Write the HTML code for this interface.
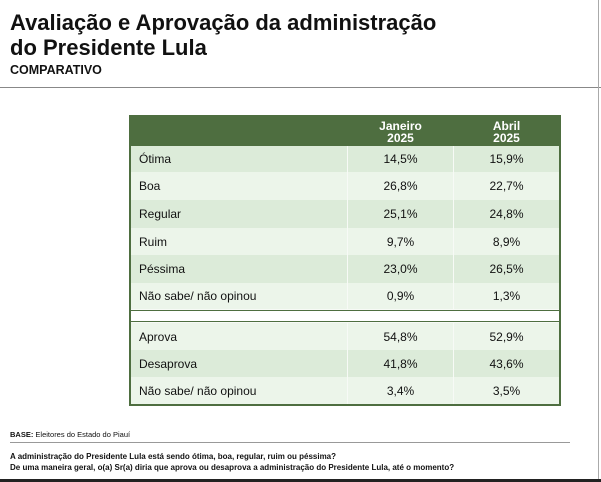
<!DOCTYPE html>
<html><head><meta charset="utf-8"><style>
body{margin:0;width:601px;height:482px;background:#fff;font-family:"Liberation Sans",Arial,sans-serif;position:relative;overflow:hidden;color:#111}
.a{position:absolute}
.t{font-weight:bold;font-size:22px;line-height:25px;left:10px}
.cell{position:absolute;font-size:12px;display:flex;align-items:center;box-sizing:border-box}
</style></head><body>
<div class="a t" style="top:10px">Avaliação e Aprovação da administração</div>
<div class="a t" style="top:35px">do Presidente Lula</div>
<div class="a" style="left:10px;top:63px;font-size:12.5px;font-weight:bold">COMPARATIVO</div>
<div class="a" style="left:0;top:87px;width:601px;height:1px;background:#888"></div>
<div class="a" style="left:598px;top:0;width:1px;height:482px;background:#aaa"></div>
<div class="a" style="left:0;top:479px;width:601px;height:3px;background:#222"></div>
<div id="tbl" class="a" style="left:129px;top:115px;width:432px;height:291px;background:#4e6e40"></div>
<div class="a" style="left:10px;top:430px;font-size:7.5px"><b>BASE:</b> Eleitores do Estado do Piauí</div>
<div class="a" style="left:10px;top:442px;width:560px;height:1px;background:#999"></div>
<div class="a" style="left:10px;top:451px;font-size:8px;font-weight:bold;line-height:11px">A administração do Presidente Lula está sendo ótima, boa, regular, ruim ou péssima?<br>De uma maneira geral, o(a) Sr(a) diria que aprova ou desaprova a administração do Presidente Lula, até o momento?</div>
<script>
const categories=["Ótima","Boa","Regular","Ruim","Péssima","Não sabe/ não opinou","","Aprova","Desaprova","Não sabe/ não opinou"];
const janValues=["14,5%","26,8%","25,1%","9,7%","23,0%","0,9%","","54,8%","41,8%","3,4%"];
const abrValues=["15,9%","22,7%","24,8%","8,9%","26,5%","1,3%","","52,9%","43,6%","3,5%"];
const headers=["","Janeiro<br>2025","Abril<br>2025"];
const tbl=document.getElementById('tbl');
const colX=[2,219,325],colW=[216,105,105];
const rowH=[26,28,28,27,28,26,14,27,27,27];
function mk(x,y,w,h,bg,html,center,bold,color){
 const d=document.createElement('div');d.className='cell';
 d.style.cssText+=`left:${x}px;top:${y}px;width:${w}px;height:${h}px;background:${bg};justify-content:${center?'center':'flex-start'};padding-left:${center?0:8}px;font-weight:${bold?'bold':'normal'};color:${color||'#111'};text-align:center;line-height:12px`;
 d.innerHTML=html;tbl.appendChild(d);return d;}
const inner=document.createElement('div');
inner.className='cell';
inner.style.cssText+='left:2px;top:31px;width:428px;height:258px;background:#f7faf6';


tbl.appendChild(inner);
for(let c=0;c<3;c++){
 const h=mk(colX[c],2,colW[c],29,'#4e6e40',headers[c],true,true,'#fff');
 
 
}
let y=31;
for(let r=0;r<categories.length;r++){
 const gap=categories[r]===""&&janValues[r]==="";
 if(gap){
  const g=mk(2,y+1,428,rowH[r]-2,'#fff','',false,false);
  g.style.borderTop='1px solid #4e6e40';g.style.borderBottom='1px solid #4e6e40';
  
  
  y+=rowH[r];continue;
 }
 const bg=(r%2===0?'#dcebd9':'#ecf5ea');
 const vals=[categories[r],janValues[r],abrValues[r]];
 for(let c=0;c<3;c++){
  const d=mk(colX[c],y,colW[c],rowH[r],bg,vals[c],c>0,false);
  
  
 }
 y+=rowH[r];
}
</script>
</body></html>
